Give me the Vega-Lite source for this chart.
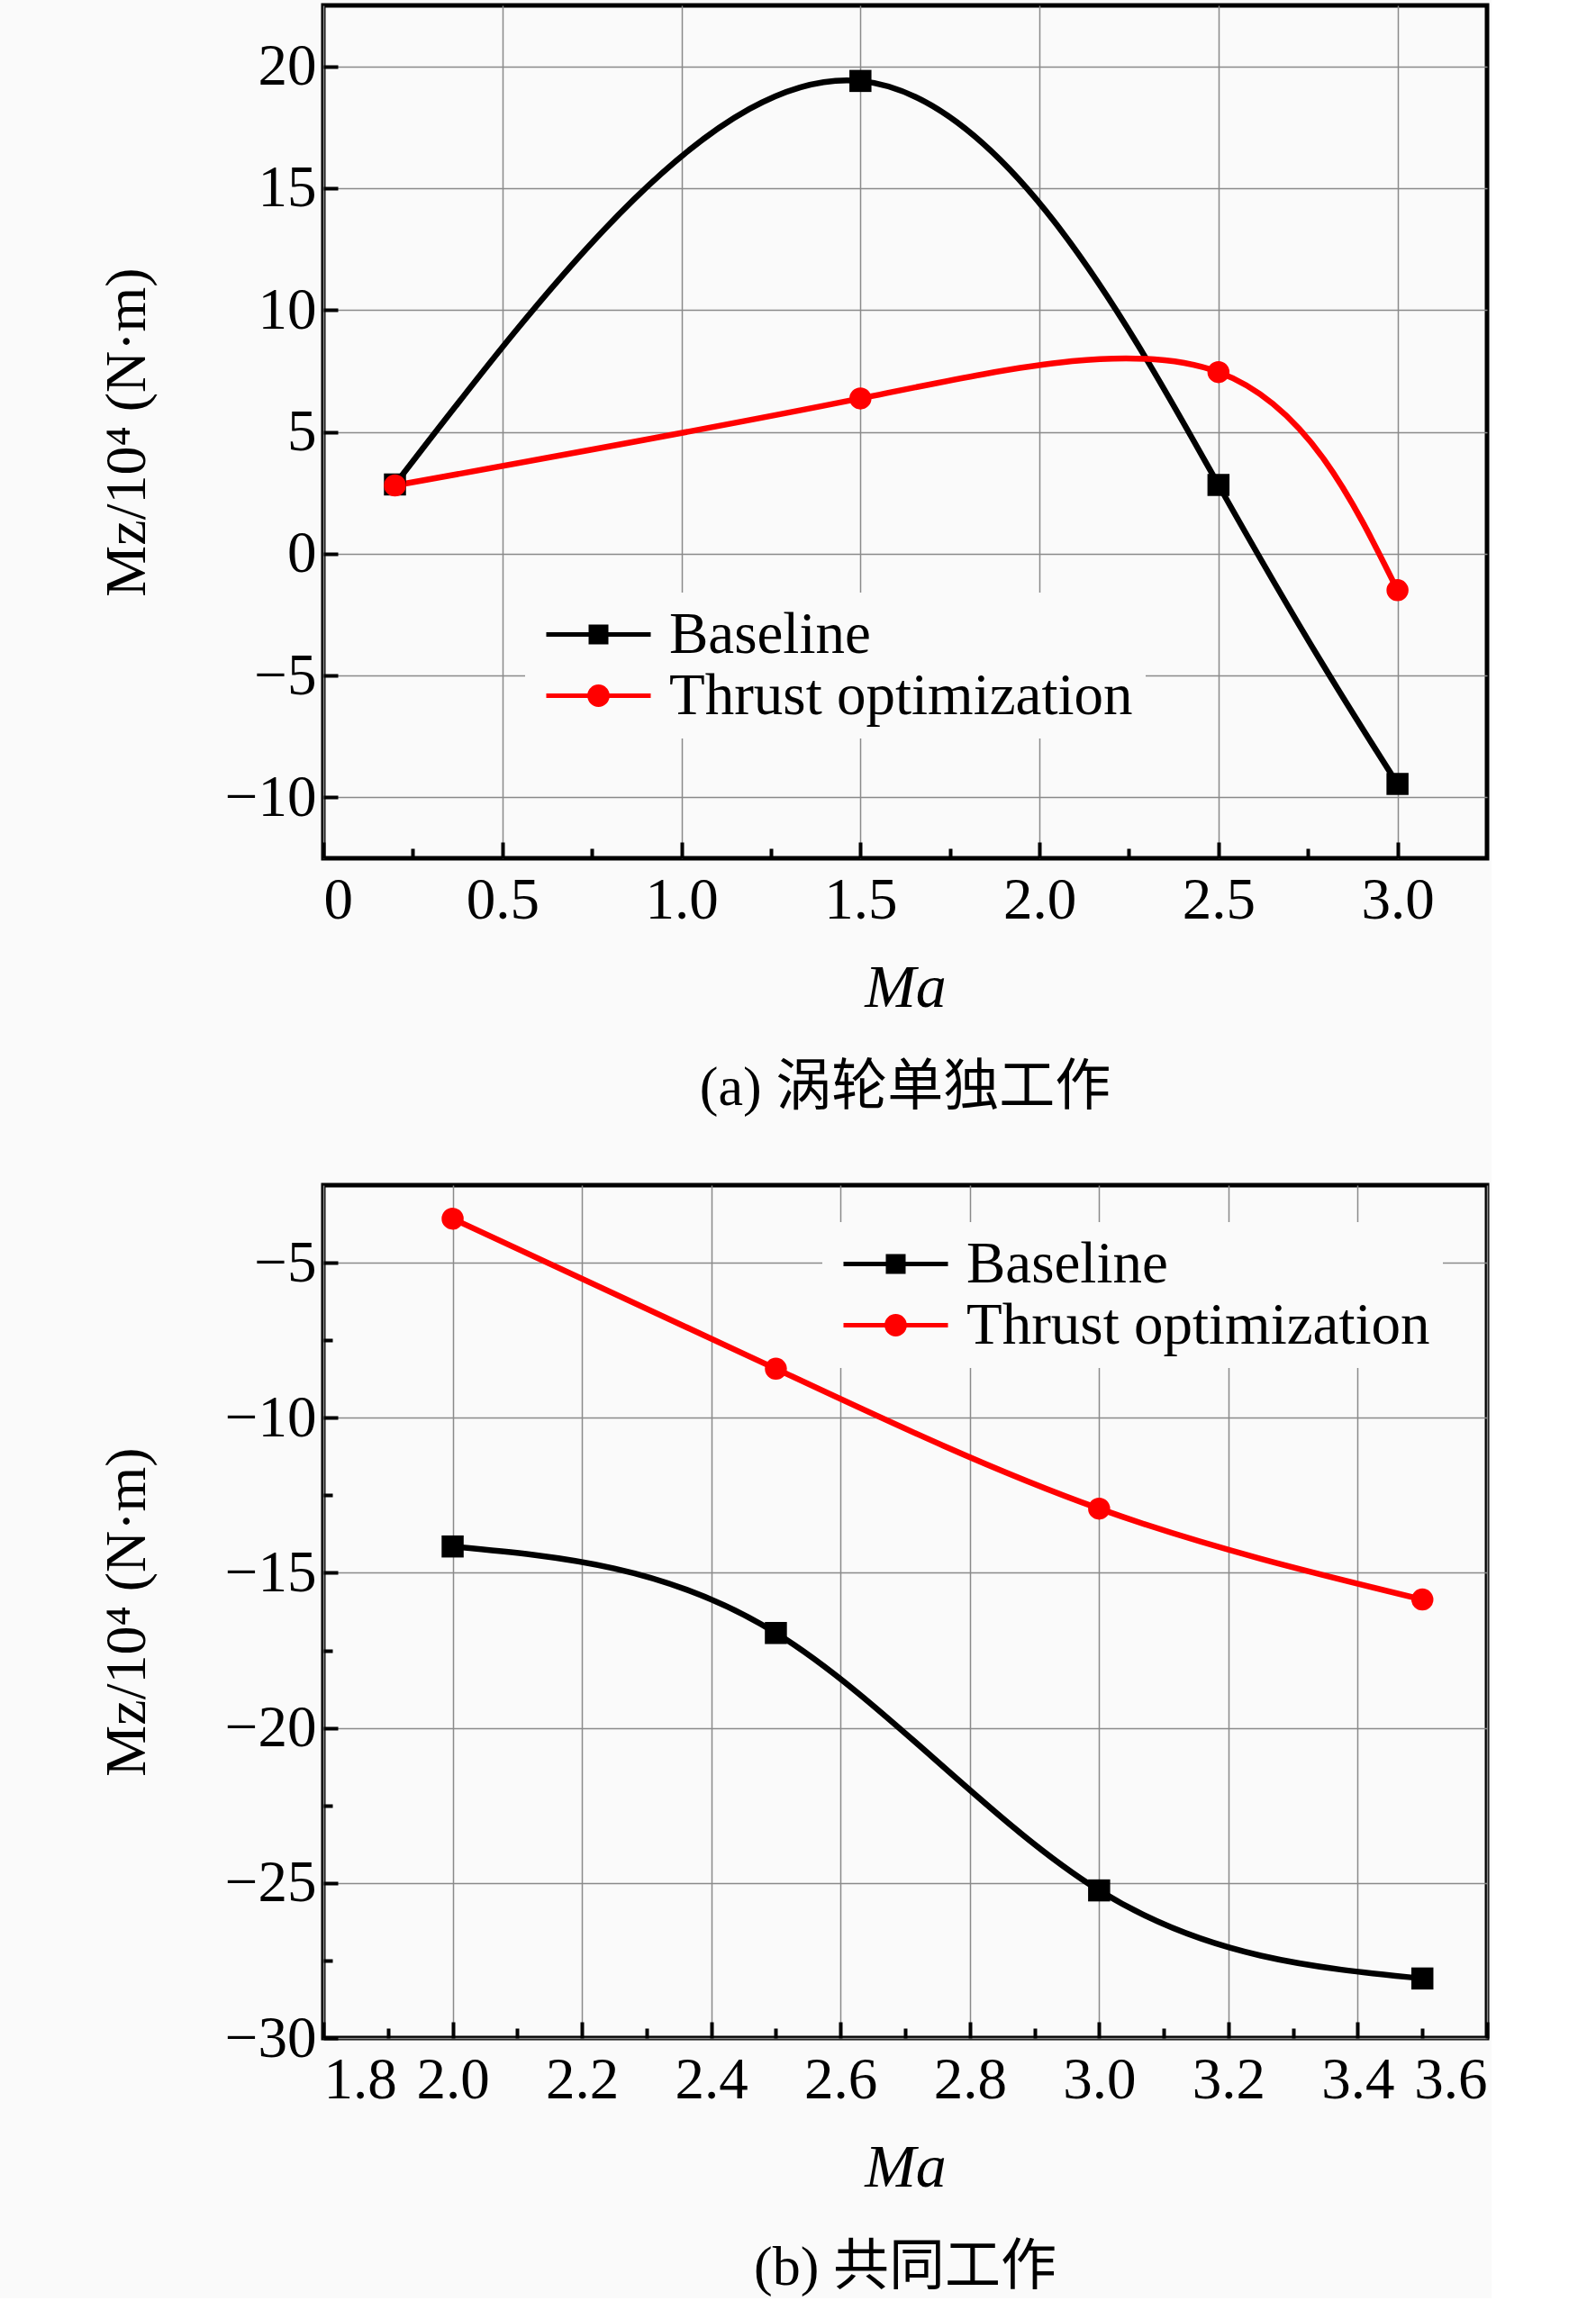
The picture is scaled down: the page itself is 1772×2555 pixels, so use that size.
{
  "$schema": "https://vega.github.io/schema/vega-lite/v6.json",
  "background": "#fafafa",
  "padding": {"left": 106, "top": 3, "right": 0, "bottom": 0},
  "datasets": {
    "top": [
      {"Ma": 0.2, "Mz": 2.84, "series": "Baseline"},
      {"Ma": 1.5, "Mz": 19.4, "series": "Baseline"},
      {"Ma": 2.5, "Mz": 2.82, "series": "Baseline"},
      {"Ma": 3.0, "Mz": -9.45, "series": "Baseline"},
      {"Ma": 0.2, "Mz": 2.8, "series": "Thrust optimization"},
      {"Ma": 1.5, "Mz": 6.37, "series": "Thrust optimization"},
      {"Ma": 2.5, "Mz": 7.45, "series": "Thrust optimization"},
      {"Ma": 3.0, "Mz": -1.5, "series": "Thrust optimization"}
    ],
    "bottom": [
      {"Ma": 2.0, "Mz": -14.15, "series": "Baseline"},
      {"Ma": 2.5, "Mz": -16.94, "series": "Baseline"},
      {"Ma": 3.0, "Mz": -25.24, "series": "Baseline"},
      {"Ma": 3.5, "Mz": -28.08, "series": "Baseline"},
      {"Ma": 2.0, "Mz": -3.58, "series": "Thrust optimization"},
      {"Ma": 2.5, "Mz": -8.42, "series": "Thrust optimization"},
      {"Ma": 3.0, "Mz": -12.93, "series": "Thrust optimization"},
      {"Ma": 3.5, "Mz": -15.86, "series": "Thrust optimization"}
    ]
  },
  "vconcat": [
    {
      "width": 1292,
      "height": 947,
      "data": {"name": "top"},
      "title": {"text": "(a) 涡轮单独工作", "orient": "bottom"},
      "encoding": {
        "x": {
          "field": "Ma", "type": "quantitative",
          "scale": {"domain": [0, 3.25], "nice": false, "zero": false},
          "axis": {
            "title": "Ma",
            "values": [0, 0.25, 0.5, 0.75, 1.0, 1.25, 1.5, 1.75, 2.0, 2.25, 2.5, 2.75, 3.0],
            "labelExpr": "datum.value === 0 ? '0' : ((datum.value * 4) % 2 === 0 ? format(datum.value, '.1f') : '')",
            "tickSize": {"condition": {"test": "(datum.value * 4) % 2 === 0", "value": -18}, "value": -11},
            "gridOpacity": {"condition": {"test": "(datum.value * 4) % 2 === 0", "value": 1}, "value": 0}
          }
        },
        "y": {
          "field": "Mz", "type": "quantitative",
          "scale": {"domain": [-12.5, 22.5], "nice": false, "zero": false},
          "axis": {
            "title": "Mz/10⁴ (N·m)",
            "values": [-10, -5, 0, 5, 10, 15, 20],
            "tickSize": -16
          }
        },
        "color": {
          "field": "series", "type": "nominal",
          "scale": {"domain": ["Baseline", "Thrust optimization"], "range": ["#000000", "#ff0000"]},
          "legend": {"orient": "none", "legendX": 224, "legendY": 652}
        }
      },
      "layer": [
        {"mark": {"type": "line", "interpolate": "natural", "strokeWidth": 6.5}},
        {
          "transform": [{"filter": "datum.series === 'Baseline'"}],
          "mark": {"type": "point", "shape": "square", "filled": true, "size": 600, "opacity": 1}
        },
        {
          "transform": [{"filter": "datum.series === 'Thrust optimization'"}],
          "mark": {"type": "point", "shape": "circle", "filled": true, "size": 600, "opacity": 1}
        },
        {
          "mark": {"type": "point", "filled": true, "size": 600, "opacity": 0},
          "encoding": {
            "shape": {
              "field": "series", "type": "nominal",
              "scale": {
                "domain": ["Baseline", "Thrust optimization"],
                "range": [
                  "M-2.9,-0.13H2.9V0.13H-2.9ZM-0.55,-0.55H0.55V0.55H-0.55Z",
                  "M-2.9,-0.13H2.9V0.13H-2.9ZM0.62,0A0.62,0.62,0,1,1,-0.62,0A0.62,0.62,0,1,1,0.62,0Z"
                ]
              },
              "legend": {"orient": "none", "legendX": 224, "legendY": 652}
            }
          }
        }
      ]
    },
    {
      "width": 1292,
      "height": 947,
      "data": {"name": "bottom"},
      "title": {"text": "(b) 共同工作", "orient": "bottom"},
      "encoding": {
        "x": {
          "field": "Ma", "type": "quantitative",
          "scale": {"domain": [1.8, 3.6], "nice": false, "zero": false},
          "axis": {
            "title": "Ma",
            "values": [1.8, 1.9, 2.0, 2.1, 2.2, 2.3, 2.4, 2.5, 2.6, 2.7, 2.8, 2.9, 3.0, 3.1, 3.2, 3.3, 3.4, 3.5, 3.6],
            "labelExpr": "round(datum.value * 10) % 2 === 0 ? format(datum.value, '.1f') : ''",
            "tickSize": {"condition": {"test": "round(datum.value * 10) % 2 === 0", "value": -18}, "value": -11},
            "gridOpacity": {"condition": {"test": "round(datum.value * 10) % 2 === 0", "value": 1}, "value": 0}
          }
        },
        "y": {
          "field": "Mz", "type": "quantitative",
          "scale": {"domain": [-30, -2.5], "nice": false, "zero": false},
          "axis": {
            "title": "Mz/10⁴ (N·m)",
            "values": [-30, -27.5, -25, -22.5, -20, -17.5, -15, -12.5, -10, -7.5, -5],
            "labelExpr": "datum.value % 5 === 0 ? format(datum.value, 'd') : ''",
            "tickSize": {"condition": {"test": "datum.value % 5 === 0", "value": -16}, "value": -10},
            "gridOpacity": {"condition": {"test": "datum.value % 5 === 0", "value": 1}, "value": 0}
          }
        },
        "color": {
          "field": "series", "type": "nominal",
          "scale": {"domain": ["Baseline", "Thrust optimization"], "range": ["#000000", "#ff0000"]},
          "legend": {"orient": "none", "legendX": 554, "legendY": 41}
        }
      },
      "layer": [
        {"mark": {"type": "line", "interpolate": "natural", "strokeWidth": 6.5}},
        {
          "transform": [{"filter": "datum.series === 'Baseline'"}],
          "mark": {"type": "point", "shape": "square", "filled": true, "size": 600, "opacity": 1}
        },
        {
          "transform": [{"filter": "datum.series === 'Thrust optimization'"}],
          "mark": {"type": "point", "shape": "circle", "filled": true, "size": 600, "opacity": 1}
        },
        {
          "mark": {"type": "point", "filled": true, "size": 600, "opacity": 0},
          "encoding": {
            "shape": {
              "field": "series", "type": "nominal",
              "scale": {
                "domain": ["Baseline", "Thrust optimization"],
                "range": [
                  "M-2.9,-0.13H2.9V0.13H-2.9ZM-0.55,-0.55H0.55V0.55H-0.55Z",
                  "M-2.9,-0.13H2.9V0.13H-2.9ZM0.62,0A0.62,0.62,0,1,1,-0.62,0A0.62,0.62,0,1,1,0.62,0Z"
                ]
              },
              "legend": {"orient": "none", "legendX": 554, "legendY": 41}
            }
          }
        }
      ]
    }
  ],
  "resolve": {"scale": {"color": "independent", "shape": "independent", "x": "independent", "y": "independent"}},
  "config": {
    "view": {"stroke": "#000000", "strokeWidth": 5},
    "concat": {"spacing": 71},
    "axis": {
      "domain": false,
      "labelFont": "Liberation Serif",
      "labelFontSize": 65,
      "labelColor": "#000000",
      "titleFont": "Liberation Serif",
      "titleFontSize": 64,
      "titleFontWeight": "normal",
      "titleColor": "#000000",
      "tickColor": "#000000",
      "tickWidth": 4,
      "gridColor": "#8a8a8a",
      "gridWidth": 1.5
    },
    "axisX": {"titleFontStyle": "italic", "titleFontSize": 68, "titlePadding": 31, "labelPadding": 33},
    "axisY": {"titlePadding": 76, "labelPadding": 24},
    "title": {
      "font": "Liberation Serif, Noto Sans CJK SC",
      "fontSize": 62,
      "fontWeight": "normal",
      "color": "#000000",
      "offset": 47
    },
    "legend": {
      "title": null,
      "fillColor": "#fafafa",
      "padding": 14,
      "zindex": 2,
      "labelFont": "Liberation Serif",
      "labelFontSize": 65,
      "labelColor": "#000000",
      "labelLimit": 0,
      "symbolSize": 1600,
      "symbolStrokeWidth": 0,
      "symbolOpacity": 1,
      "symbolOffset": 35,
      "labelOffset": 46,
      "rowPadding": 2
    },
    "point": {"strokeWidth": 0}
  }
}
